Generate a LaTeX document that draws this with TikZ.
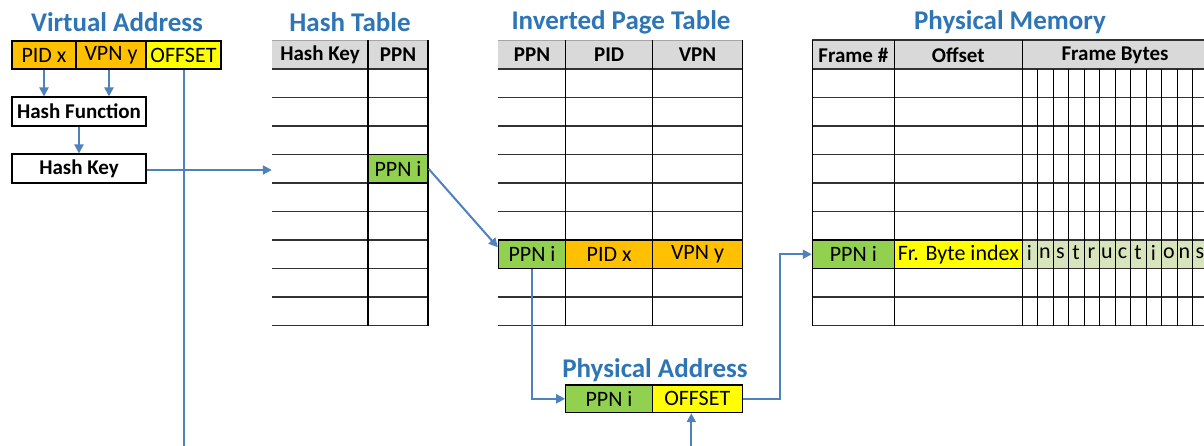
\documentclass[tikz,border=0pt]{standalone}
\usepackage{fontspec}
\setmainfont{Carlito}
\usetikzlibrary{arrows.meta}
\definecolor{ttl}{RGB}{46,117,182}
\definecolor{arr}{RGB}{79,129,189}
\definecolor{grn}{RGB}{146,208,80}
\definecolor{org}{RGB}{255,192,0}
\definecolor{yel}{RGB}{255,255,0}
\definecolor{lgrn}{RGB}{216,228,188}
\definecolor{hdr}{RGB}{217,217,217}
\definecolor{gline}{RGB}{50,50,50}
\begin{document}
\begin{tikzpicture}[x=1pt,y=-1pt,
  title/.style={font=\fontsize{27}{31}\selectfont\bfseries, text=ttl, inner sep=0},
  cell/.style={draw=black, line width=1.1pt, inner sep=0, minimum height=28.5pt, font=\fontsize{22}{26}\selectfont},
  box/.style={cell, fill=white, font=\fontsize{21}{25}\selectfont\bfseries},
  hlab/.style={inner sep=0, font=\fontsize{21}{25}\selectfont\bfseries},
  hline/.style={draw=gline, line width=1.4pt},
  vline/.style={draw=black, line width=1.4pt},
  thin/.style={draw=black, line width=0.9pt},
  arrow/.style={draw=arr, line width=2pt, -{Triangle[length=9pt,width=9pt]}},
  letter/.style={inner sep=0, font=\fontsize{22}{26}\selectfont}
]
\useasboundingbox (0,0) rectangle (1204,445);
\clip (0,0) rectangle (1204,445);
\fill[white] (0,0) rectangle (1204,445);

% ---------- Titles
\node[title] (tva) at (117,22) {Virtual Address};
\node[title] (tht) at (350,22) {Hash Table};
\node[title] (tipt) at (621,22) {Inverted Page Table};
\node[title] (tpm) at (1010,22) {Physical Memory};
\node[title] (tpa) at (655,370) {Physical Address};

% ---------- Virtual address
\node[cell, fill=org, minimum width=64pt, minimum height=28pt] (vpid) at (44,55) {PID x};
\node[cell, fill=org, minimum width=70pt, minimum height=28pt] (vvpn) at (111,55) {VPN y};
\node[cell, fill=yel, minimum width=75pt, minimum height=28pt] (voff) at (183.5,55) {OFFSET};
\node[box, minimum width=134pt, minimum height=29pt] (hf) at (79,111.5) {Hash Function};
\node[box, minimum width=134pt, minimum height=29pt] (hk) at (79,168.5) {Hash Key};

% ---------- Hash table
\fill[hdr] (272,40) rectangle (428,69);
\draw[draw=gray!70, line width=0.8pt] (272,40) -- (428,40);
\node[hlab] (hth1) at (320,55) {Hash Key};
\node[hlab] (hth2) at (398,55) {PPN};
\foreach \k in {0,...,9} \draw[hline] (272,69+28.5*\k) -- (428,69+28.5*\k);
\node[inner sep=0, minimum width=96pt, minimum height=28.5pt] (hkcell) at (320,170) {};
\node[cell, fill=grn, minimum width=60pt] (hp) at (398,168.75) {PPN i};
\draw[vline] (368,40) -- (368,325.5);
\draw[vline] (428,40) -- (428,325.5);

% ---------- Inverted page table
\fill[hdr] (498.3,40) rectangle (742.3,69);
\draw[draw=gray!70, line width=0.8pt] (498.3,40) -- (742.3,40);
\node[hlab] (ith1) at (532,55) {PPN};
\node[hlab] (ith2) at (609.2,55) {PID};
\node[hlab] (ith3) at (697.5,55) {VPN};
\foreach \k in {0,...,9} \draw[hline] (498.3,69+28.5*\k) -- (742.3,69+28.5*\k);
\node[cell, fill=grn, minimum width=67.4pt] (ip) at (532,254.25) {PPN i};
\node[cell, fill=org, minimum width=87pt] (ipid) at (609.2,254.25) {PID x};
\node[cell, fill=org, minimum width=89.6pt] (ivpn) at (697.5,254.25) {VPN y};
\draw[vline] (565.7,40) -- (565.7,325.5);
\draw[vline] (652.7,40) -- (652.7,325.5);
\draw[vline] (742.3,40) -- (742.3,325.5);

% ---------- Physical memory
\fill[hdr] (812.3,40) rectangle (1208,69);
\node[hlab] (pmh1) at (853.3,55) {Frame \#};
\node[hlab] (pmh2) at (958.3,55) {Offset};
\node[hlab] (pmh3) at (1115,55) {Frame Bytes};
\fill[lgrn] (1022.3,240) rectangle (1208,268.5);
\foreach \k in {0,...,9} \draw[hline] (812.3,69+28.5*\k) -- (1208,69+28.5*\k);
\draw[draw=gline, line width=1.3pt] (812.3,40) -- (1208,40);
\foreach \k in {1,...,11} \draw[thin] (1022.3+15.5*\k,69) -- (1022.3+15.5*\k,325.5);
\node[cell, fill=grn, minimum width=82pt] (mp) at (853.3,254.25) {PPN i};
\node[cell, fill=yel, minimum width=128pt] (mo) at (958.3,254.25) {Fr. Byte index};
\draw[vline] (812.3,40) -- (812.3,325.5);
\draw[vline] (894.3,40) -- (894.3,325.5);
\draw[vline] (1022.3,40) -- (1022.3,325.5);
\foreach \c [count=\i from 0] in {i,n,s,t,r,u,c,t,i,o,n,s}
  \node[letter] (ml\i) at (1029.5+15.5*\i,253) {\c};

% ---------- Physical address
\node[cell, fill=grn, minimum width=86.6pt, minimum height=27.7pt] (pp) at (609,398.8) {PPN i};
\node[cell, fill=yel, minimum width=90pt, minimum height=27.7pt] (poff) at (697.3,398.8) {OFFSET};

% ---------- Connectors
\draw[arrow] (vpid.south) -- (vpid.south |- hf.north);
\draw[arrow] ([xshift=-2pt]vvpn.south) -- ([xshift=-2pt]vvpn.south |- hf.north);
\draw[arrow] (hf.south) -- (hk.north);
\draw[arrow] (hk.east |- hkcell.west) -- (hkcell.west);
\draw[arrow] (voff.south) |- (400,470) -| ([xshift=-6pt]poff.south);
\draw[arrow] (hp.east) -- ([yshift=7pt]ip.west);
\draw[arrow] (ip.south) |- (pp.west);
\draw[arrow] (poff.east) -- ++(37,0) |- (mp.west);
\end{tikzpicture}
\end{document}
